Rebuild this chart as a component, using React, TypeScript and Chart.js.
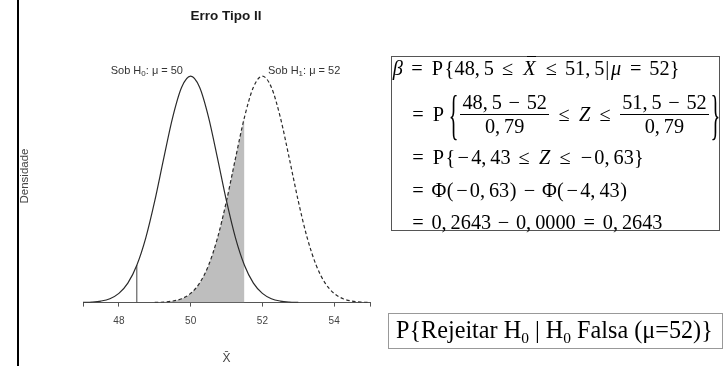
import React, { useEffect, useRef } from 'react';
import { Chart, registerables } from 'chart.js';

Chart.register(...registerables);

// ---- data ----
const h0X = [47, 47.25, 47.5, 47.75, 48, 48.25, 48.5, 48.75, 49, 49.25, 49.5, 49.75, 50, 50.25, 50.5, 50.75, 51, 51.25, 51.5, 51.75, 52, 52.25, 52.5, 52.75, 53];
const densityH0 = [0.0004, 0.0012, 0.0034, 0.0087, 0.0205, 0.0434, 0.0833, 0.1444, 0.2267, 0.3218, 0.4133, 0.4803, 0.505, 0.4803, 0.4133, 0.3218, 0.2267, 0.1444, 0.0833, 0.0434, 0.0205, 0.0087, 0.0034, 0.0012, 0.0004];
const h1X = [49, 49.25, 49.5, 49.75, 50, 50.25, 50.5, 50.75, 51, 51.25, 51.5, 51.75, 52, 52.25, 52.5, 52.75, 53, 53.25, 53.5, 53.75, 54, 54.25, 54.5, 54.75, 55];
const densityH1 = [0.0004, 0.0012, 0.0034, 0.0087, 0.0205, 0.0434, 0.0833, 0.1444, 0.2267, 0.3218, 0.4133, 0.4803, 0.505, 0.4803, 0.4133, 0.3218, 0.2267, 0.1444, 0.0833, 0.0434, 0.0205, 0.0087, 0.0034, 0.0012, 0.0004];
const shadeX = [49, 49.25, 49.5, 49.75, 50, 50.25, 50.5, 50.75, 51, 51.25, 51.5];
const shadeY = [0.0004, 0.0012, 0.0034, 0.0087, 0.0205, 0.0434, 0.0833, 0.1444, 0.2267, 0.3218, 0.4133];
const critX = [48.5, 48.5];
const critY = [0, 0.0833];
const xTickValues = [47, 48, 50, 52, 54, 55];
const xTickLabels = ['', '48', '50', '52', '54', ''];

const SANS = '"Liberation Sans", Arial, sans-serif';
const SERIF = '"Liberation Serif", "Times New Roman", serif';
const MATH_SIZE = 20.3;

const pts = (xs: number[], ys: number[]) => xs.map((x, i) => ({ x, y: ys[i] }));

// math-like typesetting: each glyph gets a TeX-like advance width (in em)
function M({ s }: { s: string }) {
  return (
    <>
      {Array.from(s).map((c, i) => {
        if (c === ' ') return null;
        let w = 0.5;
        let italic = false;
        let txt = c;
        let align: 'center' | 'left' = 'center';
        switch (c) {
          case '=':
          case '≤':
            w = 1.334;
            break;
          case '−':
            w = 1.222;
            break;
          case '-':
            w = 0.778;
            txt = '−';
            break;
          case ',':
            w = 0.445;
            align = 'left';
            break;
          case 'P':
            w = 0.681;
            break;
          case 'Z':
            w = 0.681;
            italic = true;
            break;
          case 'β':
            w = 0.566;
            italic = true;
            break;
          case 'μ':
            w = 0.603;
            italic = true;
            break;
          case 'Φ':
            w = 0.722;
            break;
          case '(':
          case ')':
            w = 0.389;
            break;
          case '|':
            w = 0.278;
            break;
          case '{':
          case '}':
            w = 0.5;
            break;
          case 'X':
            return (
              <span key={i} style={{ position: 'relative', display: 'inline-block', width: '0.828em', textAlign: 'center', fontStyle: 'italic' }}>
                X
                <span style={{ position: 'absolute', left: '0.3em', right: '0.1em', top: 1, borderTop: '1px solid #000' }} />
              </span>
            );
        }
        return (
          <span key={i} style={{ display: 'inline-block', width: w + 'em', textAlign: align, fontStyle: italic ? 'italic' : 'normal' }}>
            {txt}
          </span>
        );
      })}
    </>
  );
}

function Frac({ num, den }: { num: string; den: string }) {
  return (
    <span style={{ display: 'inline-flex', flexDirection: 'column', alignItems: 'center', margin: '0 0.08em', lineHeight: '23px' }}>
      <span style={{ padding: '0 0.1em' }}>
        <M s={num} />
      </span>
      <span style={{ alignSelf: 'stretch', borderTop: '1px solid #000' }} />
      <span style={{ padding: '0 0.1em' }}>
        <M s={den} />
      </span>
    </span>
  );
}

function BigBrace({ ch }: { ch: string }) {
  return (
    <span style={{ display: 'inline-block', width: '0.5em', textAlign: 'center', transform: 'scaleY(2.7)' }}>{ch}</span>
  );
}

export default function App() {
  const ref = useRef<HTMLCanvasElement | null>(null);

  useEffect(() => {
    if (!ref.current) return;
    const chart = new Chart(ref.current, {
      type: 'line',
      data: {
        datasets: [
          {
            label: 'H0',
            data: pts(h0X, densityH0),
            borderColor: '#2a2a2a',
            borderWidth: 1.2,
            pointRadius: 0,
            cubicInterpolationMode: 'monotone',
            fill: false,
            order: 1,
          },
          {
            label: 'H1',
            data: pts(h1X, densityH1),
            borderColor: '#2a2a2a',
            borderWidth: 1.2,
            borderDash: [3.5, 2.5],
            pointRadius: 0,
            cubicInterpolationMode: 'monotone',
            fill: false,
            order: 2,
          },
          {
            label: 'beta',
            data: pts(shadeX, shadeY),
            borderWidth: 0,
            borderColor: 'rgba(0,0,0,0)',
            backgroundColor: '#bebebe',
            pointRadius: 0,
            cubicInterpolationMode: 'monotone',
            fill: 'origin',
            order: 10,
          },
          {
            label: 'crit',
            data: pts(critX, critY),
            borderColor: '#444',
            borderWidth: 1,
            pointRadius: 0,
            fill: false,
            order: 3,
          },
        ],
      },
      options: {
        responsive: false,
        animation: false,
        parsing: false as any,
        layout: { padding: { left: 83, right: 354, top: 56, bottom: 0 } },
        plugins: {
          legend: { display: false },
          tooltip: { enabled: false },
          title: { display: false },
        },
        scales: {
          x: {
            type: 'linear',
            min: 47,
            max: 55,
            afterBuildTicks: (s: any) => {
              s.ticks = xTickValues.map((v) => ({ value: v }));
            },
            ticks: {
              autoSkip: false,
              maxRotation: 0,
              padding: 9,
              color: '#444',
              font: { family: SANS, size: 10 },
              callback: (v: any) => {
                const i = xTickValues.indexOf(Number(v));
                return i >= 0 ? xTickLabels[i] : '';
              },
            },
            grid: { drawOnChartArea: false, drawTicks: true, tickLength: 4, color: '#555' },
            border: { display: true, color: '#555', width: 1 },
            title: {
              display: true,
              text: 'X\u0304',
              color: '#444',
              font: { family: SANS, size: 12 },
              padding: { top: 15, bottom: 0 },
            },
          },
          y: { display: false, min: 0, max: 0.55 },
        },
      },
    });
    return () => chart.destroy();
  }, []);

  const lineStyle = (left: number, cy: number, h = 26): React.CSSProperties => ({
    position: 'absolute',
    left,
    top: cy - h / 2,
    height: h,
    lineHeight: h + 'px',
    display: 'flex',
    alignItems: 'center',
    whiteSpace: 'pre',
    fontFamily: SERIF,
    fontSize: MATH_SIZE,
    color: '#000',
  });
  const eqLeft = 410 - 0.278 * MATH_SIZE;

  return (
    <div style={{ position: 'fixed', left: 0, top: 0, width: 724, height: 366, overflow: 'hidden', background: '#fff' }}>
      <canvas ref={ref} width={724} height={366} style={{ position: 'absolute', left: 0, top: 0, width: 724, height: 366 }} />
      {/* left border bar */}
      <div style={{ position: 'absolute', left: 17, top: 0, width: 2, height: 366, background: '#000' }} />
      {/* title */}
      <div style={{ position: 'absolute', left: 126, width: 200, top: 8, textAlign: 'center', fontFamily: SANS, fontWeight: 'bold', fontSize: 13.5, color: '#1a1a1a' }}>Erro Tipo II</div>
      {/* y label */}
      <div style={{ position: 'absolute', left: 24 - 50, top: 176 - 8, width: 100, height: 16, lineHeight: '16px', textAlign: 'center', transform: 'rotate(-90deg)', fontFamily: SANS, fontSize: 11.5, color: '#444' }}>Densidade</div>
      {/* curve labels */}
      <div style={{ position: 'absolute', right: 724 - 183, top: 62, whiteSpace: 'pre', fontFamily: SANS, fontSize: 11, color: '#333', lineHeight: '16px' }}>
        Sob H<sub style={{ fontSize: 8, verticalAlign: '-2px' }}>0</sub>: μ = 50
      </div>
      <div style={{ position: 'absolute', left: 268, top: 62, whiteSpace: 'pre', fontFamily: SANS, fontSize: 11, color: '#333', lineHeight: '16px' }}>
        Sob H<sub style={{ fontSize: 8, verticalAlign: '-2px' }}>1</sub>: μ = 52
      </div>
      {/* formula box */}
      <div style={{ position: 'absolute', left: 391, top: 56, width: 327, height: 173, border: '1px solid #555' }} />
      <div style={lineStyle(392, 68)}>
        <M s="β=P{48,5≤X≤51,5|μ=52}" />
      </div>
      <div style={lineStyle(eqLeft, 114, 56)}>
        <M s="=P" />
        <span style={{ display: 'inline-block', width: '0.167em' }} />
        <BigBrace ch="{" />
        <Frac num="48,5−52" den="0,79" />
        <M s="≤Z≤" />
        <Frac num="51,5−52" den="0,79" />
        <BigBrace ch="}" />
      </div>
      <div style={lineStyle(eqLeft, 157)}>
        <M s="=P{-4,43≤Z≤-0,63}" />
      </div>
      <div style={lineStyle(eqLeft, 190)}>
        <M s="=Φ(-0,63)−Φ(-4,43)" />
      </div>
      <div style={lineStyle(eqLeft, 222)}>
        <M s="=0,2643−0,0000=0,2643" />
      </div>
      {/* bottom box */}
      <div style={{ position: 'absolute', left: 388, top: 313, width: 335, height: 36, border: '1px solid #999', boxSizing: 'border-box' }} />
      <div style={{ position: 'absolute', left: 396, top: 316, whiteSpace: 'pre', fontFamily: SERIF, fontSize: 24.2, lineHeight: '28px', color: '#000' }}>
        P{'{'}Rejeitar H<sub style={{ fontSize: 15.5, verticalAlign: '-5px', lineHeight: 0 }}>0</sub> | H<sub style={{ fontSize: 15.5, verticalAlign: '-5px', lineHeight: 0 }}>0</sub> Falsa (μ=52){'}'}
      </div>
    </div>
  );
}
